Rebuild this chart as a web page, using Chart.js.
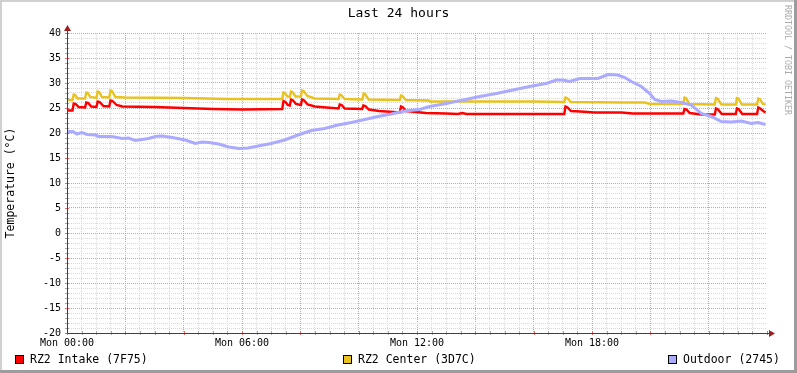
<!DOCTYPE html>
<html><head><meta charset="utf-8">
<script src="https://cdn.jsdelivr.net/npm/chart.js@4/dist/chart.umd.min.js"></script>
<style>html,body{margin:0;padding:0;background:#fff;}canvas{display:block;}</style>
</head><body>
<canvas id="c" width="797" height="373"></canvas>
<script>
const chartTitle = 'Last 24 hours';
const yAxisTitle = 'Temperature (°C)';
const creditText = 'RRDTOOL / TOBI OETIKER';
const xTickHours = [0, 6, 12, 18];
const xTickLabels = ['Mon 00:00', 'Mon 06:00', 'Mon 12:00', 'Mon 18:00'];
const seriesNames = ['RZ2 Intake (7F75)', 'RZ2 Center (3D7C)', 'Outdoor (2745)'];

const intakeHours = [0.00,0.19,0.23,0.30,0.40,0.62,0.66,0.73,0.83,1.01,1.05,1.12,1.25,1.45,1.49,1.56,1.70,1.90,3.00,4.00,5.00,6.00,7.38,7.42,7.49,7.57,7.64,7.68,7.75,7.85,8.02,8.06,8.13,8.25,8.50,8.90,9.31,9.35,9.42,9.52,10.12,10.16,10.23,10.35,10.70,11.20,11.41,11.45,11.52,11.62,11.80,12.30,13.00,13.40,13.55,13.70,17.05,17.09,17.16,17.28,17.60,18.10,19.00,19.40,21.13,21.17,21.24,21.35,21.75,22.21,22.25,22.32,22.45,22.93,22.97,23.04,23.15,23.66,23.70,23.77,23.87,23.95];
const intakeTemps = [24.5,24.5,25.9,25.8,25.2,25.1,26.1,26.0,25.3,25.2,26.3,26.2,25.4,25.3,26.5,26.4,25.6,25.3,25.2,25.0,24.8,24.7,24.8,26.4,26.2,25.6,25.5,26.7,26.5,25.8,25.6,26.7,26.5,25.7,25.3,25.1,24.9,25.7,25.6,24.9,24.8,25.5,25.4,24.7,24.4,24.2,24.1,25.3,25.1,24.4,24.3,24.0,23.9,23.8,24.0,23.8,23.8,25.3,25.1,24.4,24.3,24.1,24.1,23.9,23.9,24.8,24.7,24.0,23.7,23.7,24.9,24.7,23.8,23.8,24.9,24.7,23.8,23.8,25.1,24.9,24.4,24.1];

const centerHours = [0.00,0.19,0.23,0.28,0.36,0.62,0.66,0.71,0.80,1.01,1.05,1.10,1.20,1.45,1.49,1.54,1.66,2.00,4.00,5.50,7.38,7.42,7.47,7.56,7.64,7.68,7.73,7.84,8.02,8.06,8.11,8.24,8.50,9.31,9.35,9.40,9.52,10.13,10.17,10.22,10.34,11.41,11.45,11.50,11.62,12.40,12.45,16.00,17.05,17.09,17.14,17.28,19.00,19.80,20.00,21.13,21.17,21.22,21.34,22.21,22.25,22.30,22.44,22.93,22.97,23.02,23.14,23.66,23.70,23.75,23.86,23.95];
const centerTemps = [26.6,26.6,27.7,27.6,26.9,26.9,28.1,28.0,27.2,27.0,28.3,28.2,27.2,27.1,28.5,28.4,27.2,27.1,27.0,26.8,26.8,28.1,28.0,27.3,27.2,28.3,28.2,27.3,27.3,28.5,28.4,27.4,26.9,26.8,27.7,27.6,26.8,26.7,27.9,27.8,26.7,26.6,27.5,27.4,26.6,26.5,26.3,26.3,26.2,27.1,27.0,26.2,26.1,26.1,25.8,25.8,27.1,27.0,25.8,25.7,27.0,26.9,25.7,25.7,27.0,26.9,25.7,25.7,26.9,26.8,25.8,25.7];

const outdoorHours = [0.00,0.20,0.34,0.51,0.69,0.97,1.09,1.54,1.89,2.11,2.34,2.80,3.03,3.26,3.60,4.06,4.40,4.63,4.86,5.20,5.54,5.89,6.21,6.55,7.00,7.46,7.92,8.38,8.83,9.29,9.75,10.21,10.66,11.12,11.58,12.09,12.43,13.00,13.58,14.15,14.72,15.29,15.86,16.43,16.78,17.00,17.23,17.58,18.20,18.55,18.89,19.12,19.35,19.69,19.98,20.15,20.38,20.72,21.06,21.40,21.75,22.09,22.43,22.78,23.12,23.46,23.69,23.95];
const outdoorTemps = [20.3,20.3,19.8,20.1,19.7,19.6,19.3,19.3,18.9,19.0,18.5,18.9,19.3,19.4,19.1,18.6,17.9,18.2,18.1,17.8,17.2,16.9,17.0,17.4,17.9,18.6,19.6,20.5,20.9,21.6,22.1,22.7,23.3,23.8,24.4,24.7,25.3,25.9,26.6,27.3,27.9,28.6,29.3,29.9,30.6,30.6,30.3,30.9,30.9,31.7,31.6,31.1,30.3,29.3,27.9,26.7,26.3,26.4,26.1,25.6,23.9,23.3,22.3,22.2,22.4,21.9,22.1,21.7];

const MONO = '"DejaVu Sans Mono", "Liberation Mono", monospace';
const GRID_MAJOR = '#E49A9A';
const GRID_MINOR = '#D9D9D9';

function pts(xs, ys) { return xs.map((x, i) => ({ x: x, y: ys[i] })); }
function near(v, m) { const r = v / m; return Math.abs(r - Math.round(r)) < 1e-7; }

const decor = {
  id: 'decor',
  beforeDraw(chart) {
    const ctx = chart.ctx;
    ctx.save();
    ctx.fillStyle = '#FFFFFF';
    ctx.fillRect(0, 0, chart.width, chart.height);
    ctx.restore();
  },
  afterDatasetsDraw(chart) {
    const ctx = chart.ctx, xs = chart.scales.x, ys = chart.scales.y, a = chart.chartArea;
    ctx.save();
    for (let v = 0; v <= 24.0001; v += 0.5) {
      const px = Math.round(xs.getPixelForValue(v)) + 0.5;
      ctx.strokeStyle = near(v, 2) ? '#E07070' : '#A8A8A8';
      ctx.lineWidth = 1;
      ctx.beginPath(); ctx.moveTo(px, a.bottom - 2); ctx.lineTo(px, a.bottom + 2); ctx.stroke();
    }
    for (let v = -20; v <= 40; v += 1) {
      const py = Math.round(ys.getPixelForValue(v)) + 0.5;
      ctx.strokeStyle = near(v, 5) ? '#E07070' : '#A8A8A8';
      ctx.beginPath(); ctx.moveTo(a.left - 2, py); ctx.lineTo(a.left + 2, py); ctx.stroke();
    }
    ctx.strokeStyle = '#404040';
    ctx.lineWidth = 1;
    const ax = Math.round(a.left) + 0.5, ay = Math.round(a.bottom) + 0.5;
    ctx.beginPath(); ctx.moveTo(ax, ay); ctx.lineTo(a.right + 3, ay); ctx.stroke();
    ctx.beginPath(); ctx.moveTo(ax, ay); ctx.lineTo(ax, a.top - 3); ctx.stroke();
    ctx.fillStyle = '#9A1E1E';
    ctx.beginPath(); ctx.moveTo(a.right + 8, ay); ctx.lineTo(a.right + 2, ay - 3.5); ctx.lineTo(a.right + 2, ay + 3.5); ctx.closePath(); ctx.fill();
    ctx.beginPath(); ctx.moveTo(ax, a.top - 8); ctx.lineTo(ax - 3.5, a.top - 2); ctx.lineTo(ax + 3.5, a.top - 2); ctx.closePath(); ctx.fill();
    ctx.restore();
  },
  afterDraw(chart) {
    const ctx = chart.ctx;
    ctx.save();
    const boxX = [15, 343, 668];
    ctx.font = '11.5px ' + MONO;
    ctx.textBaseline = 'middle';
    ctx.textAlign = 'left';
    chart.data.datasets.forEach((ds) => {
      const i0 = seriesNames.indexOf(ds.label);
      const bx = boxX[i0];
      ctx.fillStyle = ds.borderColor;
      ctx.fillRect(bx, 355, 9, 9);
      ctx.strokeStyle = '#000';
      ctx.lineWidth = 1;
      ctx.strokeRect(bx + 0.5, 355.5, 8, 8);
      ctx.fillStyle = '#000';
      ctx.fillText(ds.label, bx + 15, 360);
    });
    ctx.save();
    ctx.translate(787, 5);
    ctx.rotate(Math.PI / 2);
    ctx.font = '8.3px ' + MONO;
    ctx.fillStyle = '#ABABAB';
    ctx.textBaseline = 'middle';
    ctx.fillText(creditText, 0, 0);
    ctx.restore();
    ctx.fillStyle = '#D0D0D0';
    ctx.fillRect(0, 0, chart.width, 2);
    ctx.fillRect(0, 0, 2, chart.height);
    ctx.fillStyle = '#9C9C9C';
    ctx.fillRect(0, chart.height - 3, chart.width, 3);
    ctx.fillRect(chart.width - 3, 0, 3, chart.height);
    ctx.restore();
  }
};

new Chart(document.getElementById('c'), {
  type: 'line',
  data: {
    datasets: [
      { label: seriesNames[0], data: pts(intakeHours, intakeTemps), borderColor: '#FF0000', borderWidth: 2.4, pointRadius: 0, tension: 0, order: 2 },
      { label: seriesNames[1], data: pts(centerHours, centerTemps), borderColor: '#EAC21F', borderWidth: 2.4, pointRadius: 0, tension: 0, order: 1 },
      { label: seriesNames[2], data: pts(outdoorHours, outdoorTemps), borderColor: '#AAAAFF', borderWidth: 3, pointRadius: 0, tension: 0, order: 0 }
    ]
  },
  options: {
    responsive: false,
    animation: false,
    devicePixelRatio: 1,
    layout: { padding: { left: 0, right: 0, top: 0, bottom: 0 } },
    plugins: {
      legend: { display: false },
      tooltip: { enabled: false },
      title: {
        display: true, text: chartTitle, color: '#000',
        font: { family: MONO, size: 13, weight: 'normal', lineHeight: 1.2 },
        padding: { top: 6, bottom: 11.4 }
      }
    },
    scales: {
      x: {
        type: 'linear', min: 0, max: 24,
        afterFit(s) { s.height = 40; },
        border: { display: false, dash: [1, 1] },
        grid: {
          drawTicks: false, lineWidth: 1,
          color(c) { const v = c.tick ? c.tick.value : null; if (v === null || v >= 24) return 'rgba(0,0,0,0)'; return near(v, 2) ? GRID_MAJOR : GRID_MINOR; }
        },
        ticks: {
          stepSize: 0.5, autoSkip: false, maxRotation: 0, minRotation: 0, maxTicksLimit: 1000,
          padding: 4, color: '#000', font: { family: MONO, size: 10 },
          callback(v) { const i = xTickHours.indexOf(v); return i >= 0 ? xTickLabels[i] : ''; }
        }
      },
      y: {
        min: -20, max: 40,
        afterFit(s) { s.width = 67; },
        border: { display: false, dash: [1, 1] },
        grid: {
          drawTicks: false, lineWidth: 1,
          color(c) { const v = c.tick ? c.tick.value : null; if (v === null) return 'rgba(0,0,0,0)'; return near(v, 5) ? GRID_MAJOR : GRID_MINOR; }
        },
        ticks: {
          stepSize: 1, autoSkip: false, maxTicksLimit: 1000,
          padding: 6, color: '#000', font: { family: MONO, size: 10 },
          callback(v) { return near(v, 5) ? String(v) : ''; }
        },
        title: {
          display: true, text: yAxisTitle, color: '#000',
          font: { family: MONO, size: 11.5, lineHeight: 1.2 },
          padding: { top: 4, bottom: 0 }
        }
      },
      yRight: {
        position: 'right', display: true,
        afterFit(s) { s.width = 30; },
        border: { display: false },
        grid: { display: false, drawTicks: false },
        ticks: { display: false }
      }
    }
  },
  plugins: [decor]
});
</script>
</body></html>
